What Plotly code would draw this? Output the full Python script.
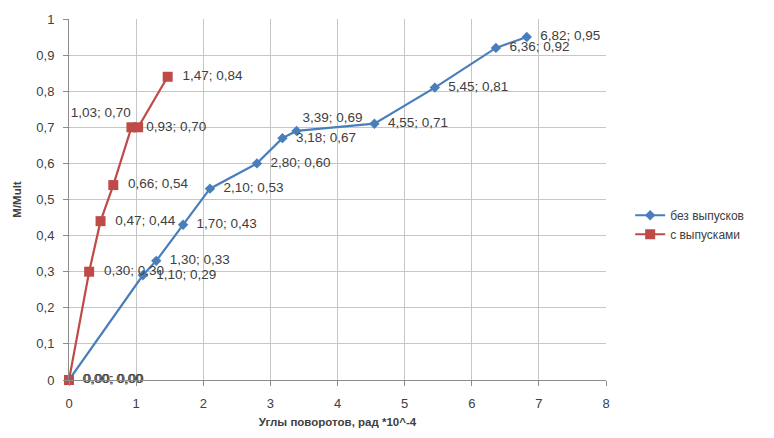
import plotly.graph_objects as go

# Rotation angle (rad *10^-4) vs relative moment M/Mult
angle_without = [0.00, 1.10, 1.30, 1.70, 2.10, 2.80, 3.18, 3.39, 4.55, 5.45, 6.36, 6.82]
moment_without = [0.00, 0.29, 0.33, 0.43, 0.53, 0.60, 0.67, 0.69, 0.71, 0.81, 0.92, 0.95]
pos_without = ["middle right"] * 7 + ["top right"] + ["middle right"] * 4

angle_with = [0.00, 0.30, 0.47, 0.66, 0.93, 1.03, 1.47]
moment_with = [0.00, 0.30, 0.44, 0.54, 0.70, 0.70, 0.84]
pos_with = ["middle right"] * 5 + ["top left"] + ["middle right"]

series_names = ["без выпусков", "с выпусками"]
x_title = "Углы поворотов, рад *10^-4"
y_title = "M/Mult"

BLUE = "#4a7ebb"
RED = "#be4b48"
TEXT = "#404040"
FONT = "Liberation Sans"


def label(x, y, pos):
    s = f"{x:.2f}; {y:.2f}".replace(".", ",")
    # side labels sit a little away from their marker
    if pos == "middle right":
        return "  " + s
    return s


fig = go.Figure()
fig.add_trace(go.Scatter(
    x=angle_without, y=moment_without, name=series_names[0],
    mode="lines+markers+text",
    line=dict(color=BLUE, width=2.2),
    marker=dict(symbol="diamond", size=8, color=BLUE),
    text=[label(x, y, p) for x, y, p in zip(angle_without, moment_without, pos_without)],
    textposition=pos_without,
    textfont=dict(family=FONT, size=13.5, color=TEXT),
    cliponaxis=False,
))
fig.add_trace(go.Scatter(
    x=angle_with, y=moment_with, name=series_names[1],
    mode="lines+markers+text",
    line=dict(color=RED, width=2.2),
    marker=dict(symbol="square", size=10, color=RED),
    text=[label(x, y, p) for x, y, p in zip(angle_with, moment_with, pos_with)],
    textposition=pos_with,
    textfont=dict(family=FONT, size=13.5, color=TEXT),
    cliponaxis=False,
))

fig.update_layout(
    width=774, height=438,
    margin=dict(l=69, r=168, t=19, b=58),
    paper_bgcolor="white", plot_bgcolor="white",
    separators=", ",
    font=dict(family=FONT, size=12, color=TEXT),
    legend=dict(
        x=1.045, y=0.43, xanchor="left", yanchor="middle",
        font=dict(family=FONT, size=12, color=TEXT),
        bgcolor="rgba(0,0,0,0)", tracegroupgap=4,
    ),
    xaxis=dict(
        range=[0, 8], dtick=1, tick0=0,
        showgrid=True, gridcolor="#c6c6c6", gridwidth=1,
        showline=True, linecolor="#8c8c8c", linewidth=1,
        ticks="outside", ticklen=5, tickcolor="#8c8c8c",
        ticklabelstandoff=6,
        zeroline=False,
        tickfont=dict(family=FONT, size=13, color=TEXT),
        title=dict(text=f"<b>{x_title}</b>", standoff=8,
                   font=dict(family=FONT, size=11.5, color=TEXT)),
    ),
    yaxis=dict(
        range=[0, 1], dtick=0.1, tick0=0,
        showgrid=True, gridcolor="#c6c6c6", gridwidth=1,
        showline=True, linecolor="#8c8c8c", linewidth=1,
        ticks="outside", ticklen=5, tickcolor="#8c8c8c",
        ticklabelstandoff=6,
        zeroline=False,
        tickfont=dict(family=FONT, size=13, color=TEXT),
        title=dict(text=f"<b>{y_title}</b>", standoff=12,
                   font=dict(family=FONT, size=11.5, color=TEXT)),
    ),
)

fig.write_html("out.html")
